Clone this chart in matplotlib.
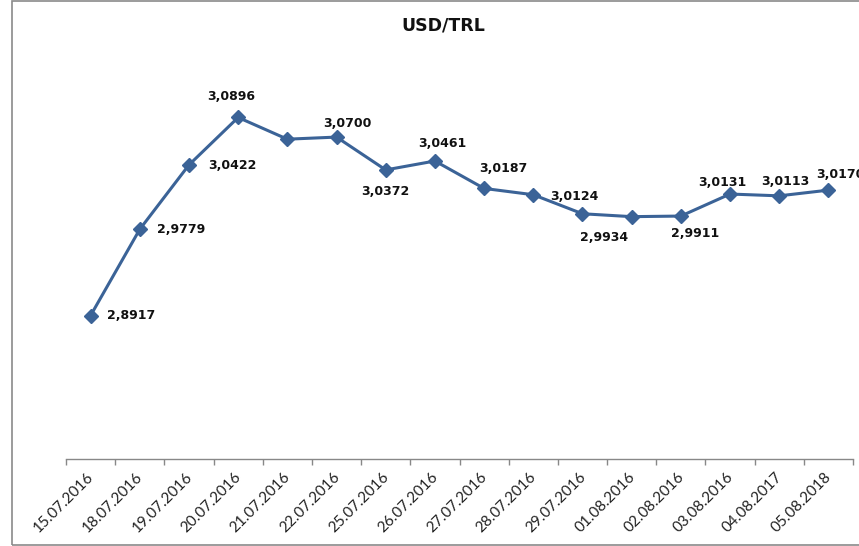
import numpy as np
import matplotlib
matplotlib.use('Agg')
import matplotlib.pyplot as plt
from matplotlib.patches import Rectangle
from matplotlib.transforms import ScaledTranslation

# dates on the x axis
dates = ['15.07.2016', '18.07.2016', '19.07.2016', '20.07.2016', '21.07.2016',
         '22.07.2016', '25.07.2016', '26.07.2016', '27.07.2016', '28.07.2016',
         '29.07.2016', '01.08.2016', '02.08.2016', '03.08.2016', '04.08.2017',
         '05.08.2018']

# USD/TRL rate
rates = [2.8917, 2.9779, 3.0422, 3.0896, 3.0679, 3.0700, 3.0372, 3.0461,
         3.0187, 3.0124, 2.9934, 2.9905, 2.9911, 3.0131, 3.0113, 3.0170]

# which points get a value label
labelled = [True, True, True, True, False, True, True, True,
            True, True, True, False, True, True, True, True]

# label offsets in pixels from the point (dx, dy, alignment), dy up is positive
label_offsets = [(16, 0, 'left'), (17, 0, 'left'), (19, -1, 'left'), (-7, 21, 'center'),
                 None, (11, 14, 'center'), (0, -22, 'center'), (7, 18, 'center'),
                 (19, 20, 'center'), (17, -2, 'left'), (22, -24, 'center'), None,
                 (14, -17, 'center'), (-8, 12, 'center'), (6, 14, 'center'),
                 (-12, 16, 'left')]

line_color = '#3B6397'

fig = plt.figure(figsize=(8.59, 5.46), dpi=100)
ax = fig.add_axes([66 / 859, 87 / 546, 787 / 859, 402 / 546])

x = np.arange(len(dates))
ax.plot(x, rates, color=line_color, linewidth=2.2, marker='D',
        markersize=7, markerfacecolor=line_color, markeredgecolor=line_color,
        clip_on=False)

for i, (xi, yi) in enumerate(zip(x, rates)):
    if not labelled[i]:
        continue
    dx, dy, ha = label_offsets[i]
    ax.annotate(f'{yi:.4f}'.replace('.', ','), (xi, yi),
                xytext=(dx, dy), textcoords='offset pixels',
                ha=ha, va='center', fontsize=9, fontweight='bold',
                family='DejaVu Sans', color='#111111', clip_on=False)

ax.set_xlim(-0.5, len(dates) - 0.5)
ax.set_ylim(2.7484, 3.15)

# category boundary ticks, labels at centres
ax.set_xticks(np.arange(-0.5, len(dates), 1))
ax.set_xticklabels([])
ax.set_xticks(x, minor=True)
ax.set_xticklabels(dates, minor=True, rotation=45, ha='right',
                   rotation_mode='anchor', fontsize=11, family='Lato',
                   color='#222222')
ax.tick_params(axis='x', which='major', length=4, color='#888888', width=1)
ax.tick_params(axis='x', which='minor', length=0, pad=8)
shift = ScaledTranslation(-4 / 100, 0, fig.dpi_scale_trans)
for lbl in ax.get_xticklabels(minor=True):
    lbl.set_transform(lbl.get_transform() + shift)
ax.set_yticks([])

for side in ['top', 'right', 'left']:
    ax.spines[side].set_visible(False)
ax.spines['bottom'].set_color('#888888')
ax.spines['bottom'].set_linewidth(1)

fig.text(443 / 859, 1 - 26 / 546, 'USD/TRL', ha='center', va='center',
         fontsize=12.5, fontweight='bold', family='DejaVu Sans', color='#111111')

# chart border (cut off on the right like the original)
fig.patches.append(Rectangle((12 / 859, 1 / 546), 1.0, 544 / 546,
                             transform=fig.transFigure, fill=False,
                             edgecolor='#8a8a8a', linewidth=1.2))

fig.savefig('out.png', dpi=100)
